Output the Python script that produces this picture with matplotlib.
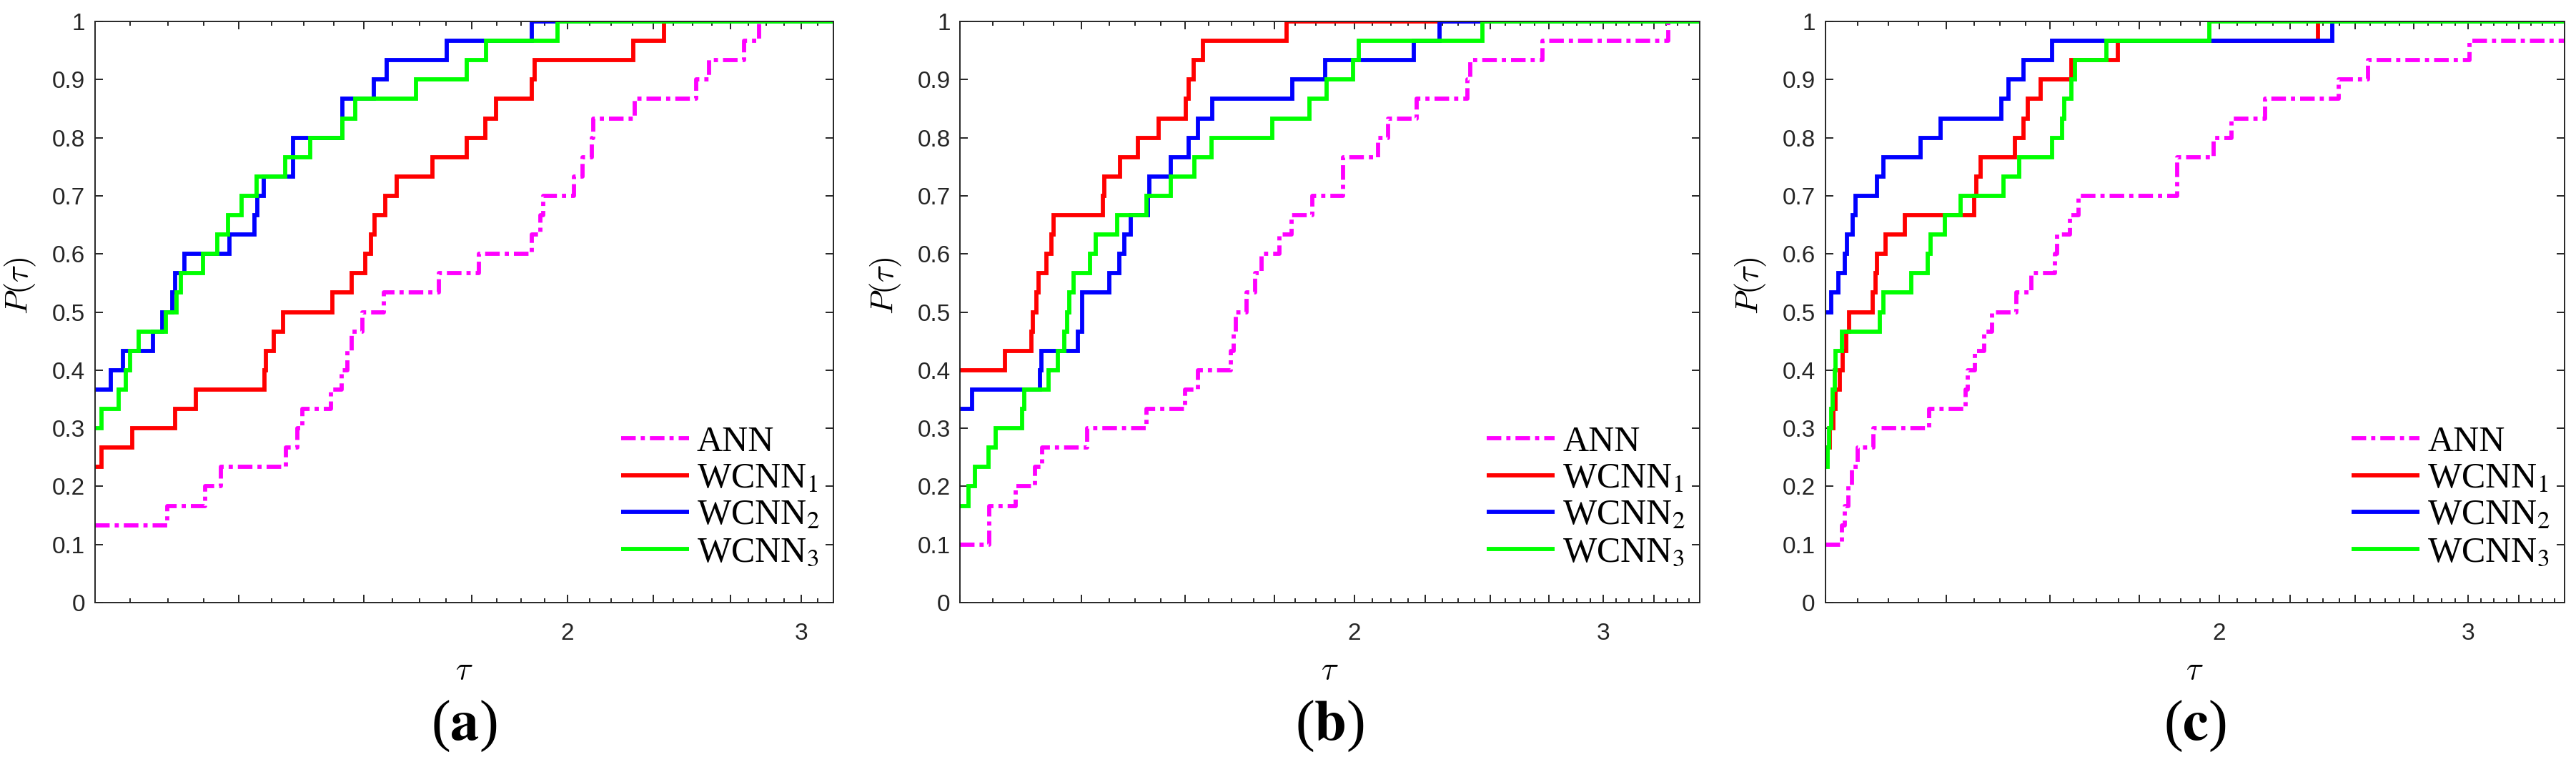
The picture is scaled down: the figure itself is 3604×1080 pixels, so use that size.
import numpy as np
import matplotlib
matplotlib.use("Agg")
import matplotlib.pyplot as plt

plt.rcParams["font.family"] = ["Liberation Sans", "DejaVu Sans"]

n_problems = 30
series_names = ["ANN", "WCNN$_1$", "WCNN$_2$", "WCNN$_3$"]
series_colors = ["#ff00ff", "#ff0000", "#0000ff", "#00ff00"]
y_ticks = [0, 0.1, 0.2, 0.3, 0.4, 0.5, 0.6, 0.7, 0.8, 0.9, 1]
y_tick_labels = ["0", "0.1", "0.2", "0.3", "0.4", "0.5", "0.6", "0.7", "0.8", "0.9", "1"]

# ---- panel (a) ----
a_xlim = (0.676, 3.163)
a_shift = 1.0
a_start = [4, 7, 11, 9]  # problems counted at the left edge: ANN, WCNN1, WCNN2, WCNN3
a_ann = [0.832, 0.92, 0.957, 1.121, 1.15, 1.164, 1.241, 1.271, 1.287, 1.30, 1.33, 1.392,
         1.561, 1.689, 1.87, 1.9, 1.911, 2.025, 2.055, 2.091, 2.097, 2.26, 2.515, 2.57,
         2.73, 2.8]
a_wcnn1 = [0.690, 0.755, 0.85, 0.897, 1.065, 1.068, 1.088, 1.113, 1.245, 1.30, 1.339, 1.354,
           1.365, 1.397, 1.431, 1.539, 1.649, 1.712, 1.748, 1.87, 1.88, 2.253, 2.38]
a_wcnn2 = [0.709, 0.734, 0.80, 0.82, 0.843, 0.85, 0.871, 0.978, 1.04, 1.047, 1.063, 1.14,
           1.14, 1.273, 1.273, 1.363, 1.401, 1.586, 1.871]
a_wcnn3 = [0.690, 0.725, 0.74, 0.75, 0.768, 0.828, 0.853, 0.863, 0.915, 0.949, 0.975, 1.008,
           1.045, 1.118, 1.185, 1.274, 1.310, 1.49, 1.65, 1.713, 1.963]
a_major = [1, 4 / 3, 5 / 3, 2, 7 / 3, 8 / 3, 3]

# ---- panel (b) ----
b_xlim = (1.0, 3.494)
b_shift = 0.3
b_start = [3, 12, 10, 5]
b_ann = [1.056, 1.056, 1.109, 1.149, 1.164, 1.263, 1.402, 1.500, 1.534, 1.624, 1.631, 1.637,
         1.668, 1.693, 1.711, 1.764, 1.800, 1.864, 1.963, 1.963, 2.082, 2.116, 2.219, 2.411,
         2.421, 2.722, 3.325]
b_wcnn1 = [1.087, 1.141, 1.144, 1.152, 1.156, 1.172, 1.183, 1.188, 1.298, 1.302, 1.338, 1.381,
           1.432, 1.503, 1.509, 1.522, 1.547, 1.785]
b_wcnn2 = [1.023, 1.159, 1.162, 1.241, 1.251, 1.251, 1.313, 1.336, 1.349, 1.364, 1.406, 1.410,
           1.463, 1.509, 1.534, 1.573, 1.803, 1.905, 2.207, 2.303]
b_wcnn3 = [1.016, 1.028, 1.054, 1.068, 1.122, 1.126, 1.178, 1.198, 1.211, 1.217, 1.222, 1.232,
           1.268, 1.281, 1.332, 1.402, 1.463, 1.525, 1.571, 1.742, 1.855, 1.910, 1.997, 2.016,
           2.469]
b_major = [1.0, 1.25, 1.5, 1.75, 2, 2.25, 2.5, 2.75, 3, 3.25]

# ---- panel (c) ----
c_xlim = (1.0, 3.494)
c_shift = 0.3
c_start = [3, 8, 15, 7]
c_ann = [1.032, 1.037, 1.044, 1.051, 1.063, 1.094, 1.211, 1.293, 1.298, 1.315, 1.336, 1.355,
         1.414, 1.453, 1.513, 1.519, 1.554, 1.577, 1.864, 1.864, 1.981, 2.041, 2.158, 2.436,
         2.553, 3.005]
c_wcnn1 = [1.009, 1.016, 1.020, 1.028, 1.034, 1.041, 1.046, 1.092, 1.098, 1.102, 1.119, 1.159,
           1.313, 1.318, 1.329, 1.412, 1.432, 1.444, 1.476, 1.558, 1.686, 2.355]
c_wcnn2 = [1.011, 1.025, 1.037, 1.042, 1.053, 1.059, 1.101, 1.114, 1.193, 1.236, 1.378, 1.396,
           1.432, 1.506, 2.411]
c_wcnn3 = [1.005, 1.007, 1.011, 1.014, 1.018, 1.020, 1.032, 1.107, 1.114, 1.173, 1.208, 1.214,
           1.246, 1.281, 1.384, 1.422, 1.506, 1.532, 1.538, 1.558, 1.567, 1.654, 1.968]
c_major = b_major

axis_color = "#262626"
line_styles = [(0, (3.5, 1.2, 1.0, 1.2)), "-", "-", "-"]


def draw_panel(ax, xlim, shift, starts, curves, major, n_sub, tag):
    ax.set_xscale("function",
                  functions=(lambda x, s=shift: np.log(x + s),
                             lambda u, s=shift: np.exp(u) - s))
    for name, color, ls, s, br in zip(series_names, series_colors, line_styles, starts, curves):
        br = np.asarray(br)
        xs = np.concatenate([[xlim[0]], br, [xlim[1]]])
        ys = (s + np.minimum(np.arange(len(br) + 2), len(br))) / n_problems
        ax.step(xs, ys, where="post", color=color, lw=4.2, ls=ls, label=name,
                solid_capstyle="butt", dash_capstyle="butt", solid_joinstyle="miter")
    ax.set_xlim(xlim)
    ax.set_ylim(0, 1)

    # minor ticks: quarter steps between the long ticks
    step = major[1] - major[0]
    minor = []
    for m in major + [major[-1] + step]:
        for k in range(1, n_sub):
            v = m - step * k / n_sub
            if xlim[0] < v < xlim[1]:
                minor.append(v)
    ax.set_xticks(major)
    ax.set_xticklabels(["2" if abs(m - 2) < 1e-9 else "3" if abs(m - 3) < 1e-9 else "" for m in major])
    ax.set_xticks(minor, minor=True)
    ax.set_yticks(y_ticks)
    ax.set_yticklabels(y_tick_labels)

    ax.tick_params(which="both", direction="in", top=True, right=True,
                   color=axis_color, width=1.4, labelcolor=axis_color, labelsize=24)
    ax.tick_params(which="major", length=8)
    ax.tick_params(which="minor", length=4.5)
    ax.tick_params(axis="x", pad=20)
    ax.tick_params(axis="y", pad=10)
    for sp in ax.spines.values():
        sp.set_color(axis_color)
        sp.set_linewidth(1.4)

    ax.set_ylabel(r"$P(\tau)$", fontsize=32, math_fontfamily="cm")
    ax.yaxis.set_label_coords(-0.077, 0.545)
    ax.set_xlabel(r"$\tau$", fontsize=32, math_fontfamily="cm")
    ax.xaxis.set_label_coords(0.5, -0.092)

    leg = ax.legend(loc="lower left", bbox_to_anchor=(0.688, 0.027), frameon=False,
                    prop={"family": "Liberation Serif", "size": 36}, borderpad=0,
                    handlelength=1.9, handletextpad=0.22, labelspacing=0.1)
    for t in leg.get_texts():
        t.set_math_fontfamily("stix")

    ax.text(0.5, -0.213, "(" + r"$\mathbf{" + tag + "}$" + ")", transform=ax.transAxes,
            ha="center", va="center", fontsize=58, family="Liberation Serif",
            math_fontfamily="stix")


fig = plt.figure(figsize=(36.04, 10.8), dpi=100)
bottom, height = 0.21944, 0.75278
ax_a = fig.add_axes([0.03690, bottom, 0.28663, height])
ax_b = fig.add_axes([0.37278, bottom, 0.28704, height])
ax_c = fig.add_axes([0.70852, bottom, 0.28704, height])

draw_panel(ax_a, a_xlim, a_shift, a_start, [a_ann, a_wcnn1, a_wcnn2, a_wcnn3], a_major, 4, "a")
draw_panel(ax_b, b_xlim, b_shift, b_start, [b_ann, b_wcnn1, b_wcnn2, b_wcnn3], b_major, 4, "b")
draw_panel(ax_c, c_xlim, c_shift, c_start, [c_ann, c_wcnn1, c_wcnn2, c_wcnn3], c_major, 4, "c")

fig.savefig("out.png", dpi=100)
